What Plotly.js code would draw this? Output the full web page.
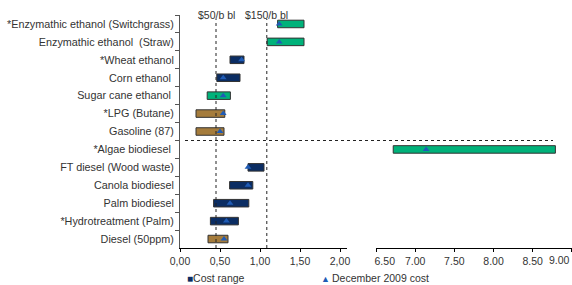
<!DOCTYPE html>
<html>
<head>
<meta charset="utf-8">
<script src="https://cdn.plot.ly/plotly-3.0.1.min.js"></script>
<style>html,body{margin:0;padding:0;background:#fff}#chart{width:572px;height:285px}</style>
</head>
<body>
<div id="chart"></div>
<script>
// ---- data ----
const categories = [
  "*Enzymathic ethanol (Switchgrass)",
  "Enzymathic ethanol  (Straw)",
  "*Wheat ethanol",
  "Corn ethanol ",
  "Sugar cane ethanol ",
  "*LPG (Butane)",
  "Gasoline (87)",
  "*Algae biodiesel ",
  "FT diesel (Wood waste)",
  "Canola biodiesel",
  "Palm biodiesel",
  "*Hydrotreatment (Palm)",
  "Diesel (50ppm)"
];
const costLow  = [1.22, 1.09, 0.625, 0.46, 0.34, 0.20, 0.20, 6.72, 0.85, 0.62, 0.42, 0.38, 0.35];
const costHigh = [1.55, 1.55, 0.80, 0.75, 0.63, 0.56, 0.55, 8.79, 1.05, 0.91, 0.86, 0.73, 0.60];
const dec2009  = [1.24, 1.24, 0.77, 0.54, 0.54, 0.54, 0.50, 7.14, 0.85, 0.85, 0.625, 0.58, 0.55];
const fuelGroup = ["advanced","advanced","conventional","conventional","advanced","fossil","fossil",
                   "advanced","conventional","conventional","conventional","conventional","fossil"];
const refLines = [{label: "$50/b bl", value: 0.45}, {label: "$150/b bl", value: 1.085}];
const leftTickVals = [0, 0.5, 1.0, 1.5, 2.0];
const leftTickText = ["0,00", "0,50", "1,00", "1,50", "2,00"];
const rightTickVals = [6.5, 7.0, 7.5, 8.0, 8.5, 9.0];
const rightTickText = ["6.50", "7.00", "7.50", "8.00", "8.50", "9.00"];
const breakAt = 3; // values above this go on the right-hand axis segment

// ---- styling ----
const W = 572, H = 285;
const px = x => x / W, py = y => 1 - y / H;
const groupColor = {advanced: "#00b27a", conventional: "#0b2d63", fossil: "#a57c3c"};
const textColor = "#333333";
const FONT = "Liberation Sans, Arial, sans-serif";
const lastR = rightTickText.length - 1;
// edge labels are nudged inward, as in the reference; the last one is drawn as an annotation
const rightTickShown = rightTickText.map((t, i) =>
  i === 0 ? "\u00a0".repeat(6) + t : (i === lastR ? "" : t));

const traces = [];
["advanced", "conventional", "fossil"].forEach(g => {
  ["x", "x2"].forEach(ax => {
    const idx = categories.map((c, i) => i).filter(i =>
      fuelGroup[i] === g && ((ax === "x2") === (costHigh[i] > breakAt)));
    if (!idx.length) return;
    traces.push({
      type: "bar", orientation: "h", xaxis: ax, yaxis: "y",
      y: idx.map(i => categories[i]),
      base: idx.map(i => costLow[i]),
      x: idx.map(i => costHigh[i] - costLow[i]),
      width: 0.42,
      marker: {color: groupColor[g], line: {color: "#333333", width: 1}},
      showlegend: false, hoverinfo: "skip"
    });
  });
});
["x", "x2"].forEach(ax => {
  const idx = categories.map((c, i) => i).filter(i => (ax === "x2") === (costHigh[i] > breakAt));
  traces.push({
    type: "scatter", mode: "markers", xaxis: ax, yaxis: "y",
    y: idx.map(i => categories[i]), x: idx.map(i => dec2009[i]),
    marker: {symbol: "triangle-up", size: 6, color: "#1f5bb5"},
    showlegend: false, hoverinfo: "skip"
  });
});

const shapes = [];
const annotations = [];
refLines.forEach(r => {
  shapes.push({type: "line", xref: "x", yref: "paper", x0: r.value, x1: r.value,
    y0: py(248), y1: py(19), line: {color: "#222222", width: 1, dash: "dot"}});
  annotations.push({xref: "x", yref: "paper", x: r.value, y: py(15), text: r.label,
    showarrow: false, xanchor: "center", yanchor: "middle",
    font: {family: FONT, size: 10.5, color: textColor}});
});
// separator between gasoline-type and diesel-type fuels
shapes.push({type: "line", xref: "paper", yref: "paper", x0: px(185), x1: px(553),
  y0: py(140.5), y1: py(140.5), line: {color: "#222222", width: 1, dash: "dot"}});

// last right-hand tick label, kept inside the page
annotations.push({xref: "x2", yref: "paper", x: rightTickVals[lastR], y: py(259.5), xanchor: "right",
  yanchor: "middle", showarrow: false, text: rightTickText[lastR],
  font: {family: FONT, size: 10.5, color: textColor}});

// legend
annotations.push({xref: "paper", yref: "paper", x: px(185), y: py(278), xanchor: "left", yanchor: "middle",
  showarrow: false, text: "<span style='color:#0b2d63;font-size:10px'>■</span>Cost range",
  font: {family: FONT, size: 10.5, color: textColor}});
annotations.push({xref: "paper", yref: "paper", x: px(319), y: py(278), xanchor: "left", yanchor: "middle",
  showarrow: false, text: "<span style='color:#1f5bb5;font-size:9px'>▲</span>\u2009December 2009 cost",
  font: {family: FONT, size: 10.5, color: textColor}});

const xCommon = {
  showgrid: false, zeroline: false, showline: true, linecolor: "#000000", linewidth: 1,
  ticks: "outside", ticklen: 3, tickcolor: "#000000", anchor: "y", tickmode: "array",
  ticklabeloverflow: "allow",
  tickfont: {family: FONT, size: 10.5, color: textColor}, fixedrange: true
};

const layout = {
  width: W, height: H,
  margin: {l: 0, r: 0, t: 0, b: 0},
  paper_bgcolor: "#ffffff", plot_bgcolor: "rgba(0,0,0,0)",
  barmode: "overlay",
  showlegend: false,
  font: {family: FONT, size: 10.5, color: textColor},
  xaxis: Object.assign({}, xCommon, {domain: [px(180), px(347)], range: [0, 2.0875],
    tickvals: leftTickVals, ticktext: leftTickText}),
  xaxis2: Object.assign({}, xCommon, {domain: [px(376), 1], range: [6.5, 9.002],
    tickvals: rightTickVals, ticktext: rightTickShown}),
  yaxis: {
    domain: [py(248), py(15)], type: "category", categoryorder: "array", categoryarray: categories,
    range: [12.5, -0.5], autorange: false, showgrid: false, zeroline: false, showline: true,
    linecolor: "#555555", linewidth: 1, ticks: "outside", ticklen: 4, tickcolor: "#555555",
    tickson: "boundaries", ticklabelstandoff: 3,
    tickfont: {family: FONT, size: 10.8, color: textColor}, fixedrange: true
  },
  shapes: shapes,
  annotations: annotations
};

Plotly.newPlot("chart", traces, layout, {displayModeBar: false, staticPlot: true});
</script>
</body>
</html>
